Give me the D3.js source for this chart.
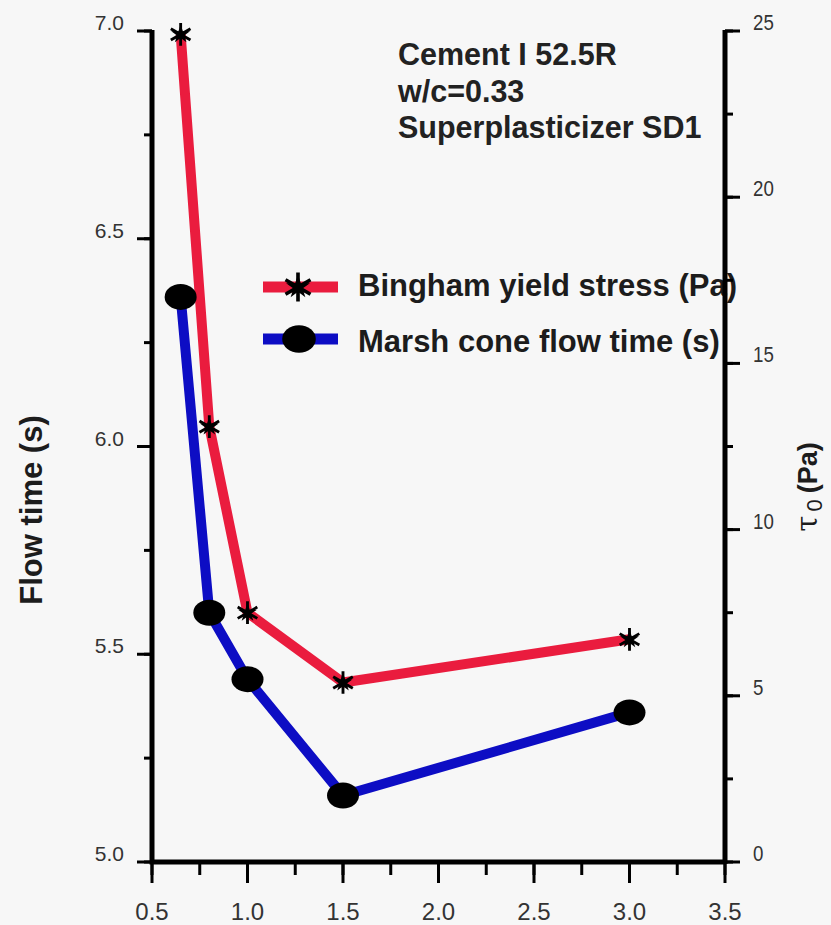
<!DOCTYPE html>
<html>
<head>
<meta charset="utf-8">
<script src="https://cdn.jsdelivr.net/npm/d3@7"></script>
<style>
  body { margin: 0; background: #f7f7f7; }
  svg { display: block; font-family: "Liberation Sans", Arial, sans-serif; }
</style>
</head>
<body>
<div id="chart"></div>
<script>
// superplasticizer dosage on x, two series on two y axes
const dosage = [0.65, 0.8, 1.0, 1.5, 3.0];
const yieldStress = [24.9, 13.1, 7.5, 5.4, 6.7];      // right axis, Pa
const flowTime = [6.36, 5.60, 5.44, 5.16, 5.36];      // left axis

const xTicks = [0.5, 1.0, 1.5, 2.0, 2.5, 3.0, 3.5];
const leftTicks = [5.0, 5.5, 6.0, 6.5, 7.0];
const rightTicks = [0, 5, 10, 15, 20, 25];

const notes = ["Cement I 52.5R", "w/c=0.33", "Superplasticizer SD1"];
const legendLabels = ["Bingham yield stress (Pa)", "Marsh cone flow time (s)"];

const W = 831, H = 925;
const plot = { left: 152, right: 725, top: 31, bottom: 862 };

const svg = d3.select("#chart").append("svg")
    .attr("width", W)
    .attr("height", H);

svg.append("rect").attr("width", W).attr("height", H).attr("fill", "#f7f7f7");

const x = d3.scaleLinear().domain([0.5, 3.5]).range([plot.left, plot.right]);
const yL = d3.scaleLinear().domain([5.0, 7.0]).range([plot.bottom, plot.top]);
const yR = d3.scaleLinear().domain([0, 25]).range([plot.bottom, plot.top]);

// -------------------------------------------------------------------------
// annotation + legend (drawn before axes, the right axis sits over the text)
// -------------------------------------------------------------------------
svg.append("g")
    .selectAll("text")
    .data(notes)
    .join("text")
    .attr("x", 398)
    .attr("y", (d, i) => 65 + i * 36.5)
    .attr("font-size", 30.5)
    .attr("font-weight", "bold")
    .attr("fill", "#222")
    .text(d => d);

const legend = svg.append("g");
const legendRows = [
    { label: legendLabels[0], color: "#ea1c3e", marker: "star", y: 287 },
    { label: legendLabels[1], color: "#0d0dc4", marker: "dot", y: 339 }
];
legendRows.forEach(r => {
    legend.append("line")
        .attr("x1", 263).attr("x2", 338)
        .attr("y1", r.y).attr("y2", r.y)
        .attr("stroke", r.color)
        .attr("stroke-width", 11);
    if (r.marker === "star") drawStar(legend, 298, r.y, 1.4);
    else drawDot(legend, 299, r.y, 1.05);
    legend.append("text")
        .attr("x", 358)
        .attr("y", r.y + 9 + (r.marker === "dot" ? 4 : 0))
        .attr("font-size", 31)
        .attr("font-weight", "bold")
        .attr("fill", "#1c1c1c")
        .text(r.label);
});

// -------------------------------------------------------------------------
// lines and markers
// -------------------------------------------------------------------------
const redLine = d3.line().x((d, i) => x(dosage[i])).y(d => yR(d));
const blueLine = d3.line().x((d, i) => x(dosage[i])).y(d => yL(d));

svg.append("path")
    .attr("d", blueLine(flowTime))
    .attr("fill", "none")
    .attr("stroke", "#0d0dc4")
    .attr("stroke-width", 10)
    .attr("stroke-linejoin", "round");

svg.append("path")
    .attr("d", redLine(yieldStress))
    .attr("fill", "none")
    .attr("stroke", "#ea1c3e")
    .attr("stroke-width", 10)
    .attr("stroke-linejoin", "round");

flowTime.forEach((v, i) => drawDot(svg, x(dosage[i]), yL(v), 1));
yieldStress.forEach((v, i) => drawStar(svg, x(dosage[i]), yR(v), 1.1));

function drawDot(g, cx, cy, k) {
    g.append("ellipse")
        .attr("cx", cx).attr("cy", cy)
        .attr("rx", 16 * k).attr("ry", 13 * k)
        .attr("fill", "#000");
}

function drawStar(g, cx, cy, k) {
    g.append("path")
        .attr("transform", `translate(${cx},${cy}) scale(${k})`)
        .attr("d", d3.symbol(d3.symbolAsterisk, 300)())
        .attr("stroke", "#000")
        .attr("stroke-width", 2.6);
    g.append("path")
        .attr("transform", `translate(${cx},${cy}) scale(${k})`)
        .attr("d", d3.symbol(d3.symbolStar, 90)())
        .attr("fill", "#000");
}

// -------------------------------------------------------------------------
// axes
// -------------------------------------------------------------------------
const tickColor = "#000";
const labelColor = "#333";

function minorVals(scale, step) {
    const [a, b] = scale.domain();
    return d3.range(a, b + step / 2, step);
}

// left
const gL = svg.append("g");
gL.selectAll("line.minor")
    .data(minorVals(yL, 0.25))
    .join("line")
    .attr("x1", plot.left - 8).attr("x2", plot.left)
    .attr("y1", d => yL(d)).attr("y2", d => yL(d))
    .attr("stroke", tickColor).attr("stroke-width", 3);
gL.selectAll("line.major")
    .data(leftTicks)
    .join("line")
    .attr("x1", plot.left - 15).attr("x2", plot.left)
    .attr("y1", d => yL(d)).attr("y2", d => yL(d))
    .attr("stroke", tickColor).attr("stroke-width", 3);
gL.selectAll("text")
    .data(leftTicks)
    .join("text")
    .attr("x", 124)
    .attr("y", d => yL(d) - 1)
    .attr("text-anchor", "end")
    .attr("font-size", 21)
    .attr("fill", labelColor)
    .text(d => d3.format(".1f")(d));

// bottom
const gB = svg.append("g");
gB.selectAll("line.minor")
    .data(minorVals(x, 0.25))
    .join("line")
    .attr("x1", d => x(d)).attr("x2", d => x(d))
    .attr("y1", plot.bottom).attr("y2", plot.bottom + 13)
    .attr("stroke", tickColor).attr("stroke-width", 3);
gB.selectAll("line.major")
    .data(xTicks)
    .join("line")
    .attr("x1", d => x(d)).attr("x2", d => x(d))
    .attr("y1", plot.bottom).attr("y2", plot.bottom + 21)
    .attr("stroke", tickColor).attr("stroke-width", 3);
gB.selectAll("text")
    .data(xTicks)
    .join("text")
    .attr("x", d => x(d))
    .attr("y", 920)
    .attr("text-anchor", "middle")
    .attr("font-size", 24)
    .attr("fill", labelColor)
    .text(d => d3.format(".1f")(d));

// right
const gR = svg.append("g");
gR.selectAll("line.minor")
    .data(minorVals(yR, 2.5))
    .join("line")
    .attr("x1", plot.right).attr("x2", plot.right + 8)
    .attr("y1", d => yR(d)).attr("y2", d => yR(d))
    .attr("stroke", tickColor).attr("stroke-width", 3);
gR.selectAll("line.major")
    .data(rightTicks)
    .join("line")
    .attr("x1", plot.right).attr("x2", plot.right + 15)
    .attr("y1", d => yR(d)).attr("y2", d => yR(d))
    .attr("stroke", tickColor).attr("stroke-width", 3);
gR.selectAll("text")
    .data(rightTicks)
    .join("text")
    .attr("transform", d => `translate(753,${yR(d) - 1}) scale(0.85,1)`)
    .attr("font-size", 22)
    .attr("fill", labelColor)
    .text(d => d);

// axis lines
svg.append("path")
    .attr("d", `M${plot.left},${plot.top - 1}V${plot.bottom}H${plot.right}`)
    .attr("fill", "none").attr("stroke", "#000").attr("stroke-width", 5);
svg.append("line")
    .attr("x1", plot.right).attr("x2", plot.right)
    .attr("y1", plot.top - 1).attr("y2", plot.bottom + 2)
    .attr("stroke", "#000").attr("stroke-width", 5);

// axis titles
svg.append("text")
    .attr("transform", `translate(42,${510}) rotate(-90)`)
    .attr("text-anchor", "middle")
    .attr("font-size", 31)
    .attr("font-weight", "bold")
    .attr("fill", "#1c1c1c")
    .text("Flow time (s)");

const rt = svg.append("text")
    .attr("transform", `translate(817,${487}) rotate(-90)`)
    .attr("text-anchor", "middle")
    .attr("font-size", 27)
    .attr("fill", "#1c1c1c");
rt.append("tspan").attr("font-family", "DejaVu Serif").attr("font-size", 29).text("τ");
rt.append("tspan").attr("font-size", 22).attr("dx", 4).attr("dy", 5).text("0");
rt.append("tspan").attr("font-weight", "bold").attr("dx", 6).attr("dy", -5).text("(Pa)");
</script>
</body>
</html>
